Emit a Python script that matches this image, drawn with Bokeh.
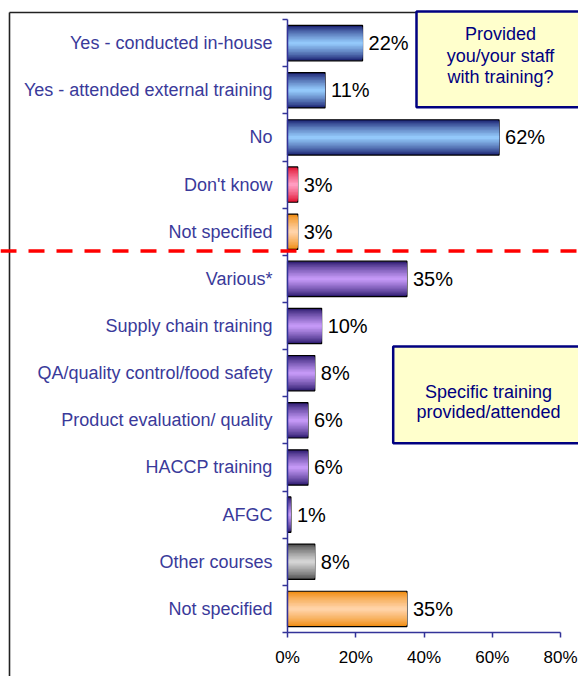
import numpy as np
from bokeh.plotting import figure
from bokeh.models import (Range1d, LinearAxis, FixedTicker, Span, BoxAnnotation,
                          Label, ColumnDataSource)
from bokeh.embed import file_html
from bokeh.resources import INLINE
from bokeh.core.properties import value

# ---------------- data ----------------
categories = ["Yes - conducted in-house", "Yes - attended external training", "No",
              "Don't know", "Not specified", "Various*", "Supply chain training",
              "QA/quality control/food safety", "Product evaluation/ quality",
              "HACCP training", "AFGC", "Other courses", "Not specified"]
values = [22, 11, 62, 3, 3, 35, 10, 8, 6, 6, 1, 8, 35]
groups = ["blue", "blue", "blue", "pink", "orange", "purple", "purple", "purple",
          "purple", "purple", "purple", "gray", "orange"]
x_ticks = [0, 20, 40, 60, 80]
x_tick_labels = ["0%", "20%", "40%", "60%", "80%"]
box1_lines = ["Provided", "you/your staff", "with training?"]
box2_lines = ["Specific training", "provided/attended"]

# ---------------- styling ----------------
FONT = "Liberation Sans"
shades = {
    "blue": ("#1b2372", "#93c8fa"),
    "purple": ("#2e1c70", "#c498f6"),
    "pink": ("#e0102e", "#ff9cc0"),
    "orange": ("#f08c10", "#ffd3a8"),
    "gray": ("#505050", "#d4d4d4"),
}

# pixel helpers (figure pixels)
XS = 273 / 80.0
YS = 47.15
def dx(px):
    return (px - 287) / XS
def dy(py):
    return 0.5 + (632 - py) / YS

W, H = 578, 676
n = len(categories)
ypos = [n - i for i in range(n)]

p = figure(width=W, height=H,
           x_range=Range1d(dx(0), dx(W)), y_range=Range1d(dy(H), dy(0)),
           x_axis_type=None, y_axis_type=None,
           output_backend="svg", toolbar_location=None, min_border=0)
p.outline_line_color = None
p.grid.visible = False
p.background_fill_color = "white"
p.border_fill_color = "white"

# outer frame (left and top edges)
p.segment(x0=[dx(9), dx(9)], y0=[dy(12), dy(12)], x1=[dx(9), dx(600)], y1=[dy(700), dy(12)],
          line_color="#222222", line_width=1.6)

# gradient bars via layered hbars
def h2rgb(h):
    h = h.lstrip("#")
    return tuple(int(h[i:i + 2], 16) for i in (0, 2, 4))
def rgb2h(c):
    return "#%02x%02x%02x" % tuple(int(round(v)) for v in c)

BAR_H = 0.75
NL = 12
for k in range(NL):
    t = k / (NL - 1)
    t = t ** 0.8
    cols = []
    for g in groups:
        e, c = h2rgb(shades[g][0]), h2rgb(shades[g][1])
        cols.append(rgb2h([e[j] + (c[j] - e[j]) * t for j in range(3)]))
    src = ColumnDataSource(dict(y=ypos, v=values, c=cols))
    h = BAR_H * (1 - k / NL)
    if k == 0:
        p.hbar(y="y", left=0, right="v", height=h, fill_color="c", line_color="black",
               line_width=1.2, source=src)
    else:
        p.hbar(y="y", left=0, right="v", height=h, fill_color="c", line_color=None,
               source=src)

# value labels
lsrc = ColumnDataSource(dict(y=ypos, v=values, t=["%d%%" % v for v in values]))
p.text(x="v", y="y", text="t", source=lsrc, x_offset=6, text_baseline="middle",
       text_align="left", text_font=value(FONT), text_font_size="20px", text_color="black")

# axes
xaxis = LinearAxis(ticker=FixedTicker(ticks=x_ticks), fixed_location=0.5, bounds=(0, 80))
xaxis.major_label_overrides = dict(zip(x_ticks, x_tick_labels))
xaxis.axis_line_color = "#333399"
xaxis.axis_line_width = 1.5
xaxis.major_tick_line_color = "#333399"
xaxis.major_tick_line_width = 1.5
xaxis.major_tick_out = 5
xaxis.major_tick_in = 0
xaxis.minor_tick_line_color = None
xaxis.major_label_text_font = FONT
xaxis.major_label_text_font_size = "17px"
xaxis.major_label_text_color = "black"
xaxis.major_label_standoff = 10
p.add_layout(xaxis, "below")

yaxis = LinearAxis(ticker=FixedTicker(ticks=ypos, minor_ticks=[b + 0.5 for b in range(n + 1)]),
                   fixed_location=0, bounds=(0.5, n + 0.5))
yaxis.major_label_overrides = {y: c for y, c in zip(ypos, categories)}
yaxis.axis_line_color = "#333399"
yaxis.axis_line_width = 1.5
yaxis.major_tick_line_color = None
yaxis.major_tick_out = 0
yaxis.major_tick_in = 0
yaxis.minor_tick_line_color = "#333399"
yaxis.minor_tick_line_width = 1.5
yaxis.minor_tick_out = 5
yaxis.minor_tick_in = 0
yaxis.major_label_text_font = FONT
yaxis.major_label_text_font_size = "18px"
yaxis.major_label_text_color = "#3a3a9a"
yaxis.major_label_standoff = 10
p.add_layout(yaxis, "left")

# dashed separator
p.add_layout(Span(location=dy(250.5), dimension="width", line_color="red",
                  line_width=3.5, line_dash="16 12"))

# annotation boxes
p.add_layout(BoxAnnotation(left=dx(416), right=dx(600), top=dy(11), bottom=dy(106.7),
                           fill_color="#ffffcc", fill_alpha=1, line_color="#000080",
                           line_width=2.5, line_alpha=1))
p.add_layout(BoxAnnotation(left=dx(392.7), right=dx(600), top=dy(346), bottom=dy(442.7),
                           fill_color="#ffffcc", fill_alpha=1, line_color="#000080",
                           line_width=2.5, line_alpha=1))
for txt, py in zip(box1_lines, [33, 55, 76]):
    p.add_layout(Label(x=dx(500), y=dy(py), text=txt, text_align="center",
                       text_baseline="middle", text_font=FONT, text_font_size="18px",
                       text_color="#000080"))
for txt, py in zip(box2_lines, [391, 411.7]):
    p.add_layout(Label(x=dx(488), y=dy(py), text=txt, text_align="center",
                       text_baseline="middle", text_font=FONT, text_font_size="18px",
                       text_color="#000080"))

open("out.html", "w").write(file_html(p, INLINE))
